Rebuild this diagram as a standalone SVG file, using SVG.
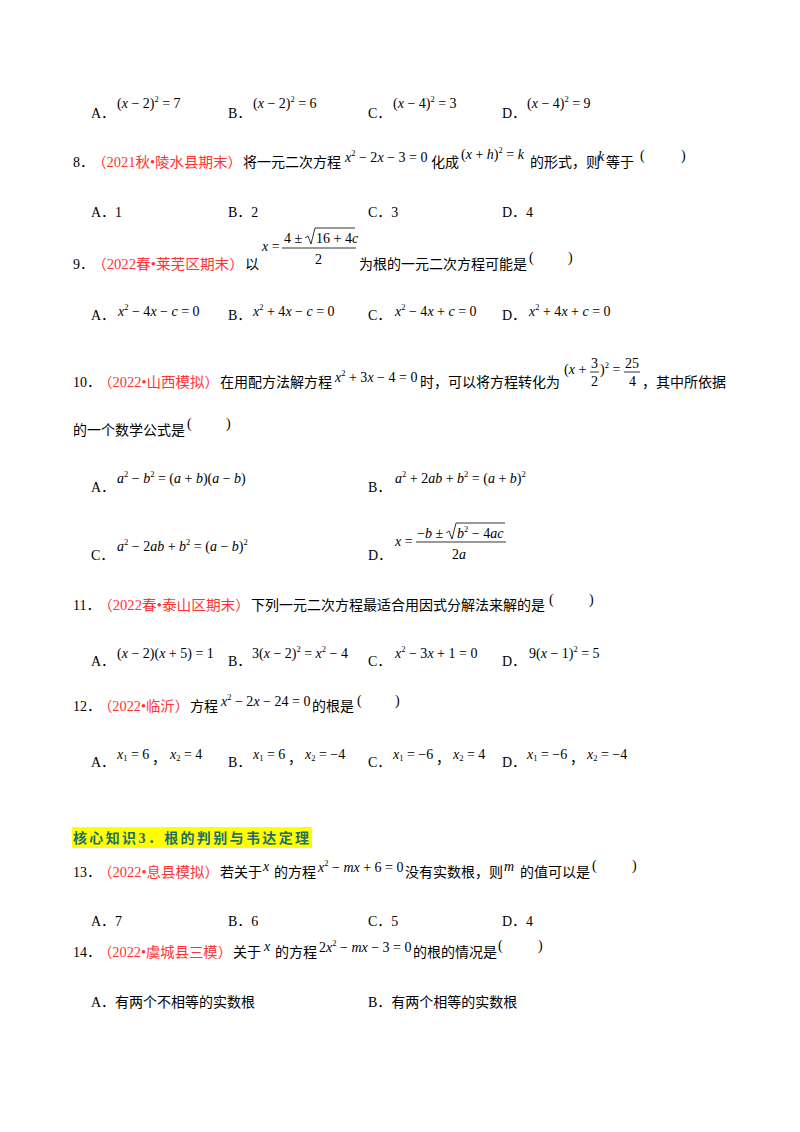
<svg xmlns="http://www.w3.org/2000/svg" width="800" height="1132" viewBox="0 0 800 1132">
<style>
text{font-family:"Liberation Serif","Noto Sans CJK SC",serif;font-size:14px;fill:#000}
.r{fill:#ff3333}
.m{font-family:"Liberation Serif",serif;font-size:14px}
.i{font-style:italic}
.s{font-size:8.5px}
.h{font-weight:bold;fill:#1d6e6e;font-size:14px}
line{stroke:#000;stroke-width:0.8}
</style>
<rect width="800" height="1132" fill="#fff"/>
<text x="91" y="118">A．</text><text class="m" x="117" y="108">(<tspan class="i">x</tspan> − 2)<tspan class="s" dy="-6">2</tspan><tspan dy="6"> = 7</tspan></text>
<text x="228" y="118">B．</text><text class="m" x="253" y="108">(<tspan class="i">x</tspan> − 2)<tspan class="s" dy="-6">2</tspan><tspan dy="6"> = 6</tspan></text>
<text x="368" y="118">C．</text><text class="m" x="393" y="108">(<tspan class="i">x</tspan> − 4)<tspan class="s" dy="-6">2</tspan><tspan dy="6"> = 3</tspan></text>
<text x="502" y="118">D．</text><text class="m" x="527" y="108">(<tspan class="i">x</tspan> − 4)<tspan class="s" dy="-6">2</tspan><tspan dy="6"> = 9</tspan></text>

<text x="73" y="167">8．</text><text class="r" x="92" y="167" textLength="150" lengthAdjust="spacingAndGlyphs">（2021秋•陵水县期末）</text><text x="243" y="167">将一元二次方程</text>
<text class="m" x="345" y="162"><tspan class="i">x</tspan><tspan class="s" dy="-6">2</tspan><tspan dy="6"> − 2</tspan><tspan class="i">x</tspan> − 3 = 0</text>
<text x="431" y="167">化成</text>
<text class="m" x="461" y="159">(<tspan class="i">x</tspan> + <tspan class="i">h</tspan>)<tspan class="s" dy="-6">2</tspan><tspan dy="6"> = </tspan><tspan class="i">k</tspan></text>
<text x="530" y="167">的形式，则</text><text class="m i" x="598" y="161">k</text><text x="606" y="167">等于</text>
<text class="m" x="640" y="160">(</text><text class="m" x="681" y="160">)</text>

<text x="91" y="217">A．1</text><text x="228" y="217">B．2</text><text x="368" y="217">C．3</text><text x="502" y="217">D．4</text>

<text x="73" y="269">9．</text><text class="r" x="92" y="269" textLength="152" lengthAdjust="spacingAndGlyphs">（2022春•莱芜区期末）</text><text x="245" y="269">以</text>
<text class="m" x="262" y="251"><tspan class="i">x</tspan> =</text>
<text class="m" x="284" y="243">4 ± </text>
<path d="M305 238 L308 236 L311 244 L315 228 L355 228" fill="none" stroke="#000" stroke-width="0.8"/>
<text class="m" x="316" y="243">16 + 4<tspan class="i">c</tspan></text>
<line x1="282" y1="248" x2="356" y2="248"/>
<text class="m" x="315" y="264">2</text>
<text x="359" y="269">为根的一元二次方程可能是</text><text class="m" x="529" y="262">(</text><text class="m" x="568" y="262">)</text>

<text x="91" y="320">A．</text><text class="m" x="118" y="316"><tspan class="i">x</tspan><tspan class="s" dy="-6">2</tspan><tspan dy="6"> − 4</tspan><tspan class="i">x</tspan> − <tspan class="i">c</tspan> = 0</text>
<text x="228" y="320">B．</text><text class="m" x="253" y="316"><tspan class="i">x</tspan><tspan class="s" dy="-6">2</tspan><tspan dy="6"> + 4</tspan><tspan class="i">x</tspan> − <tspan class="i">c</tspan> = 0</text>
<text x="368" y="320">C．</text><text class="m" x="395" y="316"><tspan class="i">x</tspan><tspan class="s" dy="-6">2</tspan><tspan dy="6"> − 4</tspan><tspan class="i">x</tspan> + <tspan class="i">c</tspan> = 0</text>
<text x="502" y="320">D．</text><text class="m" x="529" y="316"><tspan class="i">x</tspan><tspan class="s" dy="-6">2</tspan><tspan dy="6"> + 4</tspan><tspan class="i">x</tspan> + <tspan class="i">c</tspan> = 0</text>

<text x="73" y="387">10．</text><text class="r" x="98" y="387" textLength="121" lengthAdjust="spacingAndGlyphs">（2022•山西模拟）</text><text x="220" y="387">在用配方法解方程</text>
<text class="m" x="335" y="382"><tspan class="i">x</tspan><tspan class="s" dy="-6">2</tspan><tspan dy="6"> + 3</tspan><tspan class="i">x</tspan> − 4 = 0</text>
<text x="420" y="387">时，可以将方程转化为</text>
<text class="m" x="564" y="374">(<tspan class="i">x</tspan> +</text>
<text class="m" x="591" y="368">3</text><line x1="590" y1="372" x2="599" y2="372"/><text class="m" x="591" y="386">2</text>
<text class="m" x="600" y="374">)<tspan class="s" dy="-6">2</tspan><tspan dy="6"> =</tspan></text>
<text class="m" x="625" y="368">25</text><line x1="624" y1="372" x2="640" y2="372"/><text class="m" x="629" y="386">4</text>
<text x="642" y="387">，其中所依据</text>
<text x="73" y="435">的一个数学公式是</text><text class="m" x="187" y="428">(</text><text class="m" x="226" y="428">)</text>

<text x="91" y="492">A．</text><text class="m" x="117" y="483"><tspan class="i">a</tspan><tspan class="s" dy="-6">2</tspan><tspan dy="6"> − </tspan><tspan class="i">b</tspan><tspan class="s" dy="-6">2</tspan><tspan dy="6"> = (</tspan><tspan class="i">a</tspan> + <tspan class="i">b</tspan>)(<tspan class="i">a</tspan> − <tspan class="i">b</tspan>)</text>
<text x="368" y="492">B．</text><text class="m" x="395" y="483"><tspan class="i">a</tspan><tspan class="s" dy="-6">2</tspan><tspan dy="6"> + 2</tspan><tspan class="i">ab</tspan> + <tspan class="i">b</tspan><tspan class="s" dy="-6">2</tspan><tspan dy="6"> = (</tspan><tspan class="i">a</tspan> + <tspan class="i">b</tspan>)<tspan class="s" dy="-6">2</tspan></text>
<text x="91" y="560">C．</text><text class="m" x="117" y="551"><tspan class="i">a</tspan><tspan class="s" dy="-6">2</tspan><tspan dy="6"> − 2</tspan><tspan class="i">ab</tspan> + <tspan class="i">b</tspan><tspan class="s" dy="-6">2</tspan><tspan dy="6"> = (</tspan><tspan class="i">a</tspan> − <tspan class="i">b</tspan>)<tspan class="s" dy="-6">2</tspan></text>
<text x="368" y="560">D．</text>
<text class="m" x="395" y="546"><tspan class="i">x</tspan> =</text>
<text class="m" x="417" y="538">−<tspan class="i">b</tspan> ± </text>
<path d="M446 533 L449 531 L452 539 L456 523 L505 523" fill="none" stroke="#000" stroke-width="0.8"/>
<text class="m" x="457" y="538"><tspan class="i">b</tspan><tspan class="s" dy="-6">2</tspan><tspan dy="6"> − 4</tspan><tspan class="i">ac</tspan></text>
<line x1="416" y1="542" x2="506" y2="542"/>
<text class="m" x="452" y="559">2<tspan class="i">a</tspan></text>

<text x="73" y="610">11．</text><text class="r" x="98" y="610" textLength="152" lengthAdjust="spacingAndGlyphs">（2022春•泰山区期末）</text><text x="251" y="610">下列一元二次方程最适合用因式分解法来解的是</text><text class="m" x="549" y="604">(</text><text class="m" x="589" y="604">)</text>
<text x="91" y="666">A．</text><text class="m" x="117" y="658">(<tspan class="i">x</tspan> − 2)(<tspan class="i">x</tspan> + 5) = 1</text>
<text x="228" y="666">B．</text><text class="m" x="252" y="658">3(<tspan class="i">x</tspan> − 2)<tspan class="s" dy="-6">2</tspan><tspan dy="6"> = </tspan><tspan class="i">x</tspan><tspan class="s" dy="-6">2</tspan><tspan dy="6"> − 4</tspan></text>
<text x="368" y="666">C．</text><text class="m" x="395" y="658"><tspan class="i">x</tspan><tspan class="s" dy="-6">2</tspan><tspan dy="6"> − 3</tspan><tspan class="i">x</tspan> + 1 = 0</text>
<text x="502" y="666">D．</text><text class="m" x="529" y="658">9(<tspan class="i">x</tspan> − 1)<tspan class="s" dy="-6">2</tspan><tspan dy="6"> = 5</tspan></text>

<text x="73" y="711">12．</text><text class="r" x="98" y="711" textLength="91" lengthAdjust="spacingAndGlyphs">（2022•临沂）</text><text x="190" y="711">方程</text>
<text class="m" x="221" y="706"><tspan class="i">x</tspan><tspan class="s" dy="-6">2</tspan><tspan dy="6"> − 2</tspan><tspan class="i">x</tspan> − 24 = 0</text>
<text x="312" y="711">的根是</text><text class="m" x="357" y="705">(</text><text class="m" x="395" y="705">)</text>
<text x="91" y="767">A．</text><text class="m" x="117" y="759"><tspan class="i">x</tspan><tspan class="s" dy="2">1</tspan><tspan dy="-2"> = 6</tspan></text><text x="152" y="763">，</text><text class="m" x="170" y="759"><tspan class="i">x</tspan><tspan class="s" dy="2">2</tspan><tspan dy="-2"> = 4</tspan></text>
<text x="228" y="767">B．</text><text class="m" x="253" y="759"><tspan class="i">x</tspan><tspan class="s" dy="2">1</tspan><tspan dy="-2"> = 6</tspan></text><text x="288" y="763">，</text><text class="m" x="305" y="759"><tspan class="i">x</tspan><tspan class="s" dy="2">2</tspan><tspan dy="-2"> = −4</tspan></text>
<text x="368" y="767">C．</text><text class="m" x="393" y="759"><tspan class="i">x</tspan><tspan class="s" dy="2">1</tspan><tspan dy="-2"> = −6</tspan></text><text x="436" y="763">，</text><text class="m" x="453" y="759"><tspan class="i">x</tspan><tspan class="s" dy="2">2</tspan><tspan dy="-2"> = 4</tspan></text>
<text x="502" y="767">D．</text><text class="m" x="527" y="759"><tspan class="i">x</tspan><tspan class="s" dy="2">1</tspan><tspan dy="-2"> = −6</tspan></text><text x="570" y="763">，</text><text class="m" x="587" y="759"><tspan class="i">x</tspan><tspan class="s" dy="2">2</tspan><tspan dy="-2"> = −4</tspan></text>

<rect x="72" y="827" width="240" height="21" fill="#ffff00"/>
<text class="h" x="73" y="843" textLength="236" lengthAdjust="spacing">核心知识3．根的判别与韦达定理</text>

<text x="73" y="877">13．</text><text class="r" x="98" y="877" textLength="121" lengthAdjust="spacingAndGlyphs">（2022•息县模拟）</text><text x="220" y="877">若关于</text><text class="m i" x="263" y="871">x</text><text x="274" y="877">的方程</text>
<text class="m" x="318" y="872"><tspan class="i">x</tspan><tspan class="s" dy="-6">2</tspan><tspan dy="6"> − </tspan><tspan class="i">mx</tspan> + 6 = 0</text>
<text x="405" y="877">没有实数根，则</text><text class="m i" x="504" y="871">m</text><text x="520" y="877">的值可以是</text><text class="m" x="592" y="870">(</text><text class="m" x="632" y="870">)</text>
<text x="91" y="926">A．7</text><text x="228" y="926">B．6</text><text x="368" y="926">C．5</text><text x="502" y="926">D．4</text>

<text x="73" y="957">14．</text><text class="r" x="98" y="957" textLength="134" lengthAdjust="spacingAndGlyphs">（2022•虞城县三模）</text><text x="233" y="957">关于</text><text class="m i" x="264" y="951">x</text><text x="275" y="957">的方程</text>
<text class="m" x="319" y="952">2<tspan class="i">x</tspan><tspan class="s" dy="-6">2</tspan><tspan dy="6"> − </tspan><tspan class="i">mx</tspan> − 3 = 0</text>
<text x="413" y="957">的根的情况是</text><text class="m" x="498" y="950">(</text><text class="m" x="538" y="950">)</text>
<text x="91" y="1007">A．有两个不相等的实数根</text><text x="368" y="1007">B．有两个相等的实数根</text>
</svg>
